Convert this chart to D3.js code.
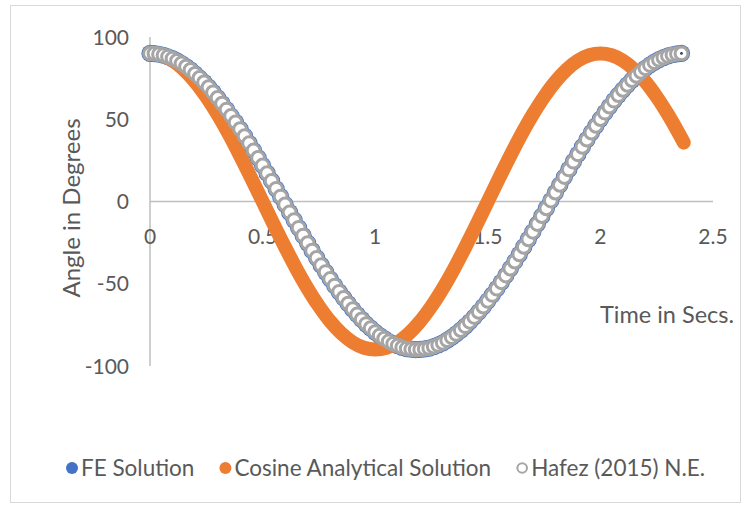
<!DOCTYPE html>
<html lang="en">
<head>
  <meta charset="UTF-8">
  <title>Pendulum angle vs time</title>
  <script src="https://d3js.org/d3.v7.min.js"></script>
  <style>
    body { margin: 0; background: #fff; }
    svg text { font-family: Lato, "Open Sans", sans-serif; fill: #595959; }
    .axis-line { stroke: #bfbfbf; stroke-width: 1.5px; }
  </style>
</head>
<body>
  <svg width="746" height="510"></svg>

  <script>
    // Hafez (2015) numerical estimate, sampled every 0.02 s (degrees)
    const hafezStep = 0.02;
    const hafezValues = [
      90.0, 89.9, 89.5, 88.9, 88.0, 86.9, 85.5, 83.9, 82.0, 80.0,
      77.6, 75.1, 72.4, 69.5, 66.3, 63.0, 59.5, 55.9, 52.0, 48.1,
      44.0, 39.7, 35.4, 31.0, 26.5, 21.9, 17.2, 12.5, 7.7, 3.0,
      -1.8, -6.6, -11.3, -16.0, -20.7, -25.3, -29.9, -34.3, -38.7, -42.9,
      -47.1, -51.1, -54.9, -58.6, -62.1, -65.5, -68.7, -71.7, -74.5, -77.0,
      -79.4, -81.5, -83.4, -85.1, -86.5, -87.7, -88.7, -89.4, -89.8, -90.0,
      -89.9, -89.6, -89.1, -88.2, -87.2, -85.9, -84.3, -82.5, -80.5, -78.2,
      -75.8, -73.1, -70.2, -67.1, -63.9, -60.4, -56.8, -53.0, -49.1, -45.0,
      -40.8, -36.5, -32.1, -27.6, -23.0, -18.4, -13.7, -8.9, -4.2, 0.6,
      5.4, 10.1, 14.9, 19.5, 24.2, 28.7, 33.2, 37.6, 41.9, 46.0,
      50.1, 54.0, 57.7, 61.3, 64.7, 67.9, 70.9, 73.8, 76.4, 78.8,
      81.0, 83.0, 84.7, 86.2, 87.5, 88.5, 89.2, 89.7, 90.0
    ];
    // FE solution lies under the Hafez points
    const feValues = hafezValues;

    // Cosine analytical solution
    const cosineTimes = [
      0, 0.05, 0.1, 0.15, 0.2, 0.25, 0.3, 0.35, 0.4, 0.45,
      0.5, 0.55, 0.6, 0.65, 0.7, 0.75, 0.8, 0.85, 0.9, 0.95,
      1, 1.05, 1.1, 1.15, 1.2, 1.25, 1.3, 1.35, 1.4, 1.45,
      1.5, 1.55, 1.6, 1.65, 1.7, 1.75, 1.8, 1.85, 1.9, 1.95,
      2, 2.05, 2.1, 2.15, 2.2, 2.25, 2.3, 2.35, 2.37
    ];
    const cosineValues = [
      90, 88.9, 85.6, 80.2, 72.8, 63.6, 52.9, 40.9, 27.8, 14.1,
      0, -14.1, -27.8, -40.9, -52.9, -63.6, -72.8, -80.2, -85.6, -88.9,
      -90, -88.9, -85.6, -80.2, -72.8, -63.6, -52.9, -40.9, -27.8, -14.1,
      0, 14.1, 27.8, 40.9, 52.9, 63.6, 72.8, 80.2, 85.6, 88.9,
      90, 88.9, 85.6, 80.2, 72.8, 63.6, 52.9, 40.9, 35.8
    ];

    const xTicks = [0, 0.5, 1, 1.5, 2, 2.5];
    const yTicks = [-100, -50, 0, 50, 100];
    const seriesNames = ["FE Solution", "Cosine Analytical Solution", "Hafez (2015) N.E."];

    const blue = "#4472c4", orange = "#ed7d31", grey = "#a5a5a5";

    const svg = d3.select("svg");

    // outer chart border
    svg.append("rect")
        .attr("x", 10.5).attr("y", 5.5)
        .attr("width", 730).attr("height", 497)
        .attr("fill", "none")
        .attr("stroke", "#d9d9d9");

    const x = d3.scaleLinear().domain([0, 2.5]).range([150, 713]);
    const y = d3.scaleLinear().domain([-100, 100]).range([366, 37]);

    // axis lines through the origin
    svg.append("line").attr("class", "axis-line")
        .attr("x1", x(0)).attr("x2", x(0))
        .attr("y1", y(-100)).attr("y2", y(100));
    svg.append("line").attr("class", "axis-line")
        .attr("x1", x(0)).attr("x2", x(2.5))
        .attr("y1", y(0)).attr("y2", y(0));

    svg.append("g").selectAll("text")
        .data(yTicks)
        .enter().append("text")
        .attr("x", 129)
        .attr("y", d => y(d))
        .attr("dy", "0.36em")
        .attr("text-anchor", "end")
        .style("font-size", "21px")
        .text(d => d);

    svg.append("g").selectAll("text")
        .data(xTicks)
        .enter().append("text")
        .attr("x", d => x(d))
        .attr("y", y(0) + 35)
        .attr("dy", "0.36em")
        .attr("text-anchor", "middle")
        .style("font-size", "21px")
        .text(d => d);

    // axis titles
    svg.append("text")
        .attr("transform", "translate(71,208) rotate(-90)")
        .attr("dy", "0.36em")
        .attr("text-anchor", "middle")
        .style("font-size", "24px")
        .text("Angle in Degrees");

    svg.append("text")
        .attr("x", 734)
        .attr("y", 315)
        .attr("dy", "0.36em")
        .attr("text-anchor", "end")
        .style("font-size", "23.5px")
        .text("Time in Secs.");

    // FE solution markers (underneath)
    svg.append("g").selectAll("circle")
        .data(feValues)
        .enter().append("circle")
        .attr("cx", (d, i) => x(i * hafezStep))
        .attr("cy", d => y(d))
        .attr("r", 8.6)
        .attr("fill", blue);

    // cosine analytical solution: dense markers read as a thick band
    const cosineLine = d3.line()
        .x((d, i) => x(cosineTimes[i]))
        .y(d => y(d))
        .curve(d3.curveCatmullRom.alpha(0.5));

    svg.append("path")
        .datum(cosineValues)
        .attr("d", cosineLine)
        .attr("fill", "none")
        .attr("stroke", orange)
        .attr("stroke-width", 14)
        .attr("stroke-linecap", "round");

    // Hafez markers on top
    svg.append("g").selectAll("circle")
        .data(hafezValues)
        .enter().append("circle")
        .attr("cx", (d, i) => x(i * hafezStep))
        .attr("cy", d => y(d))
        .attr("r", 6.4)
        .attr("fill", "#fff")
        .attr("stroke", grey)
        .attr("stroke-width", 3);

    // centre dot of the last marker stays visible
    const last = hafezValues.length - 1;
    svg.append("circle")
        .attr("cx", x(last * hafezStep))
        .attr("cy", y(hafezValues[last]))
        .attr("r", 1.4)
        .attr("fill", "#2f3f6a");

    // legend
    const legend = svg.append("g").attr("transform", "translate(0,468)");
    let lx = 66;
    seriesNames.forEach((name, i) => {
      const item = legend.append("g").attr("transform", `translate(${lx},0)`);
      if (i < 2) {
        item.append("circle").attr("cx", 6).attr("r", 6)
            .attr("fill", i === 0 ? blue : orange);
      } else {
        item.append("circle").attr("cx", 6).attr("r", 4.8)
            .attr("fill", "#fff").attr("stroke", grey).attr("stroke-width", 2);
      }
      const t = item.append("text")
          .attr("x", 15)
          .attr("dy", "0.36em")
          .style("font-size", "22.5px")
          .text(name);
      lx += 15 + t.node().getComputedTextLength() + 25;
    });
  </script>
</body>
</html>
